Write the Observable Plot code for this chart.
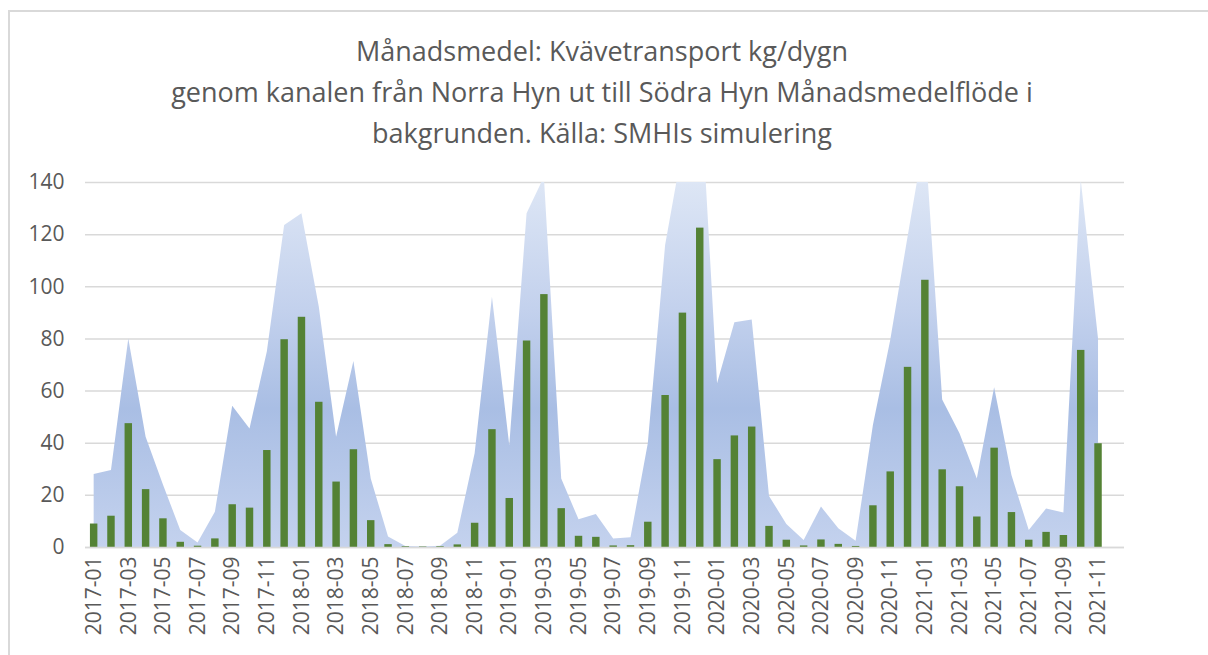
<!DOCTYPE html>
<html>
<head>
<meta charset="utf-8">
<script src="https://cdn.jsdelivr.net/npm/d3@7"></script>
<script src="https://cdn.jsdelivr.net/npm/@observablehq/plot@0.6"></script>
<style>
  html, body { margin: 0; padding: 0; background: #fff; }
  #wrap { position: relative; width: 1208px; height: 655px; overflow: hidden; background: #fff; }
  #frame { position: absolute; left: 8px; top: 10px; width: 1230px; height: 700px; border: 2px solid #d9d9d9; box-sizing: border-box; }
  #title { position: absolute; left: 0; top: 30px; width: 1204px; text-align: center; font-family: "Open Sans", sans-serif; font-size: 27px; line-height: 41px; color: #595959; }
  #chart { position: absolute; left: 0; top: 160px; }
</style>
</head>
<body>
<div id="wrap">
  <div id="frame"></div>
  <div id="title">Månadsmedel: Kvävetransport kg/dygn<br>genom kanalen från Norra Hyn ut till Södra Hyn Månadsmedelflöde i<br>bakgrunden. Källa: SMHIs simulering</div>
  <div id="chart"></div>
</div>
<script>
// Month categories (2017-01 .. 2021-12)
const months = [
  "2017-01","2017-02","2017-03","2017-04","2017-05","2017-06","2017-07","2017-08","2017-09","2017-10","2017-11","2017-12",
  "2018-01","2018-02","2018-03","2018-04","2018-05","2018-06","2018-07","2018-08","2018-09","2018-10","2018-11","2018-12",
  "2019-01","2019-02","2019-03","2019-04","2019-05","2019-06","2019-07","2019-08","2019-09","2019-10","2019-11","2019-12",
  "2020-01","2020-02","2020-03","2020-04","2020-05","2020-06","2020-07","2020-08","2020-09","2020-10","2020-11","2020-12",
  "2021-01","2021-02","2021-03","2021-04","2021-05","2021-06","2021-07","2021-08","2021-09","2021-10","2021-11","2021-12"
];
// Kvävetransport kg/dygn (bars)
const transport = [
  9, 12, 47.5, 22.2, 11, 2, 0.5, 3.3, 16.4, 15.1, 37.2, 79.7,
  88.3, 55.7, 25.1, 37.5, 10.3, 1.1, 0.3, 0.2, 0.3, 1.0, 9.3, 45.2,
  18.8, 79.2, 97, 14.9, 4.3, 3.9, 0.6, 0.7, 9.7, 58.3, 89.9, 122.5,
  33.7, 42.8, 46.2, 8.1, 2.8, 0.6, 2.9, 1.2, 0.4, 16, 29, 69.1,
  102.5, 29.8, 23.3, 11.7, 38.1, 13.4, 2.8, 5.8, 4.6, 75.6, 39.8
];
// Månadsmedelflöde (background area)
const flow = [
  28, 29.5, 80, 42.3, 24, 6.5, 1.7, 13.5, 54.2, 45.5, 75, 123.5,
  128, 92.2, 42.3, 71.3, 26.3, 4, 0.4, 0.2, 0.5, 5.5, 36, 96,
  39, 128, 142, 26.3, 10.6, 12.7, 3.3, 3.7, 39.8, 115.8, 153, 181,
  62.8, 86.2, 87.3, 19.6, 8.8, 2.7, 15.5, 7.2, 2.4, 46.8, 79.4, 119,
  158, 56.6, 43.6, 26.3, 61.3, 27.6, 6.5, 14.8, 13.2, 141, 80
];
const yTicks = [0, 20, 40, 60, 80, 100, 120, 140];
const xTickIdx = months.map((m, i) => i).filter(i => i % 2 === 0);

const data = transport.map((v, i) => ({i, month: months[i], n: v, flow: flow[i]}));

const W = 1208, H = 495, mT = 22, mB = 108, mL = 85, mR = 84;

const chart = Plot.plot({
  width: W, height: H,
  marginTop: mT, marginBottom: mB, marginLeft: mL, marginRight: mR,
  style: {fontFamily: "'Open Sans', sans-serif", fontSize: "21px", color: "#595959", background: "transparent"},
  x: {type: "linear", domain: [-0.5, months.length - 0.5], ticks: xTickIdx, tickFormat: i => months[i],
      tickRotate: -90, tickSize: 0, tickPadding: 9, label: null},
  y: {domain: [0, 140], ticks: yTicks, tickSize: 0, tickPadding: 21, label: null},
  marks: [
    Plot.gridY(yTicks, {stroke: "#d9d9d9", strokeOpacity: 1, strokeWidth: 1.5}),
    Plot.areaY(data, {x: "i", y: "flow", fill: "url(#flowGrad)", clip: true, curve: "linear"}),
    Plot.rectY(data, {x1: d => d.i - 0.215, x2: d => d.i + 0.215, y: "n", fill: "#548235"}),
    Plot.ruleY([0], {stroke: "#d9d9d9", strokeWidth: 1.5})
  ]
});

// gradient definition for the area
const svgNS = "http://www.w3.org/2000/svg";
const defs = document.createElementNS(svgNS, "defs");
const grad = document.createElementNS(svgNS, "linearGradient");
grad.setAttribute("id", "flowGrad");
grad.setAttribute("gradientUnits", "userSpaceOnUse");
grad.setAttribute("x1", 0); grad.setAttribute("x2", 0);
grad.setAttribute("y1", mT); grad.setAttribute("y2", H - mB);
[[0, "#dde6f5"], [0.35, "#c3d1ed"], [0.62, "#a9bee4"], [1, "#c4d2ee"]].forEach(([o, c]) => {
  const s = document.createElementNS(svgNS, "stop");
  s.setAttribute("offset", o); s.setAttribute("stop-color", c);
  grad.appendChild(s);
});
defs.appendChild(grad);
chart.insertBefore(defs, chart.firstChild);

document.getElementById("chart").appendChild(chart);
</script>
</body>
</html>
